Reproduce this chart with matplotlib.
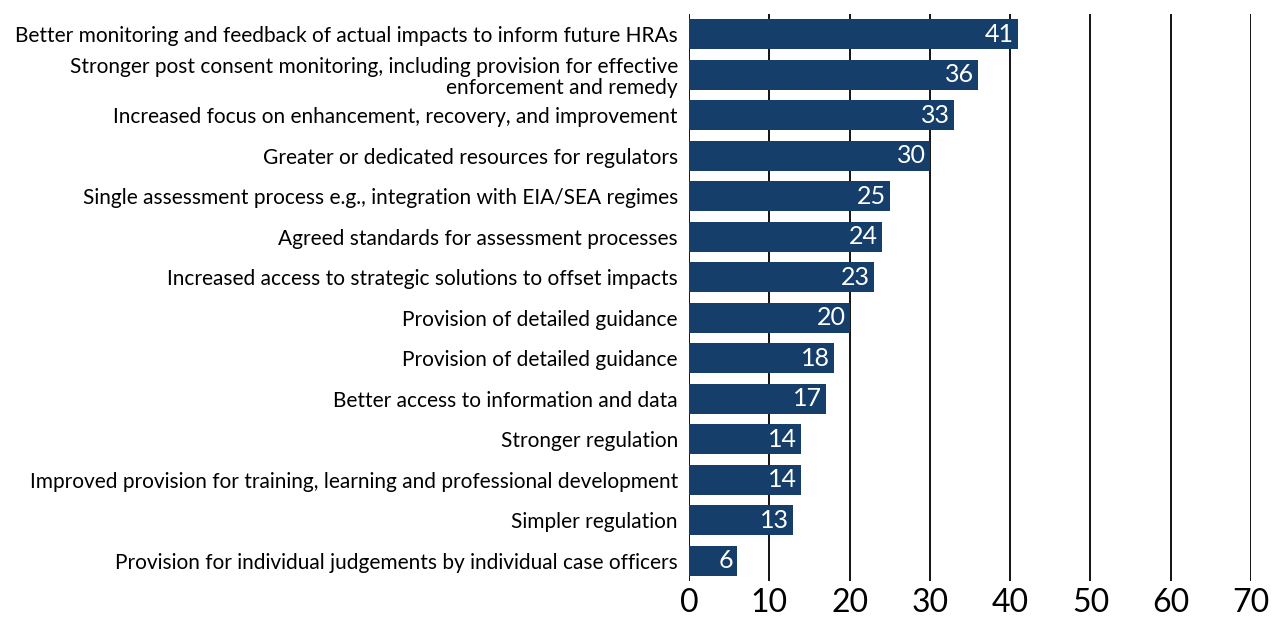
import matplotlib
matplotlib.use("Agg")
import matplotlib.pyplot as plt

labels = [
    "Better monitoring and feedback of actual impacts to inform future HRAs",
    "Stronger post consent monitoring, including provision for effective\nenforcement and remedy",
    "Increased focus on enhancement, recovery, and improvement",
    "Greater or dedicated resources for regulators",
    "Single assessment process e.g., integration with EIA/SEA regimes",
    "Agreed standards for assessment processes",
    "Increased access to strategic solutions to offset impacts",
    "Provision of detailed guidance",
    "Provision of detailed guidance",
    "Better access to information and data",
    "Stronger regulation",
    "Improved provision for training, learning and professional development",
    "Simpler regulation",
    "Provision for individual judgements by individual case officers",
]
values = [41, 36, 33, 30, 25, 24, 23, 20, 18, 17, 14, 14, 13, 6]
xticks = [0, 10, 20, 30, 40, 50, 60, 70]

BAR = "#163e6a"
plt.rcParams["font.family"] = ["Lato", "DejaVu Sans"]

fig = plt.figure(figsize=(12.72, 6.21), dpi=100)
ax = fig.add_axes([0.5417, 0.0644, 0.4418, 0.9131])

pos = list(range(len(values)))
ax.barh(pos, values, height=0.74, color=BAR, zorder=3)
for p, v in zip(pos, values):
    ax.text(v - 0.5, p, str(v), ha="right", va="center", color="white",
            fontsize=18, zorder=4)

ax.set_xlim(0, 70)
ax.set_ylim(len(values) - 0.5, -0.5)
ax.set_xticks(xticks)
ax.set_xticklabels([str(t) for t in xticks], fontsize=23)
ax.set_yticks(pos)
ax.set_yticklabels(labels, fontsize=15, linespacing=1.08)
ax.tick_params(axis="both", length=0)
ax.tick_params(axis="y", pad=8)
ax.tick_params(axis="x", pad=5)
ax.grid(axis="x", color="black", lw=1.3, zorder=0)
for s in ax.spines.values():
    s.set_visible(False)

fig.savefig("out.png", dpi=100)
